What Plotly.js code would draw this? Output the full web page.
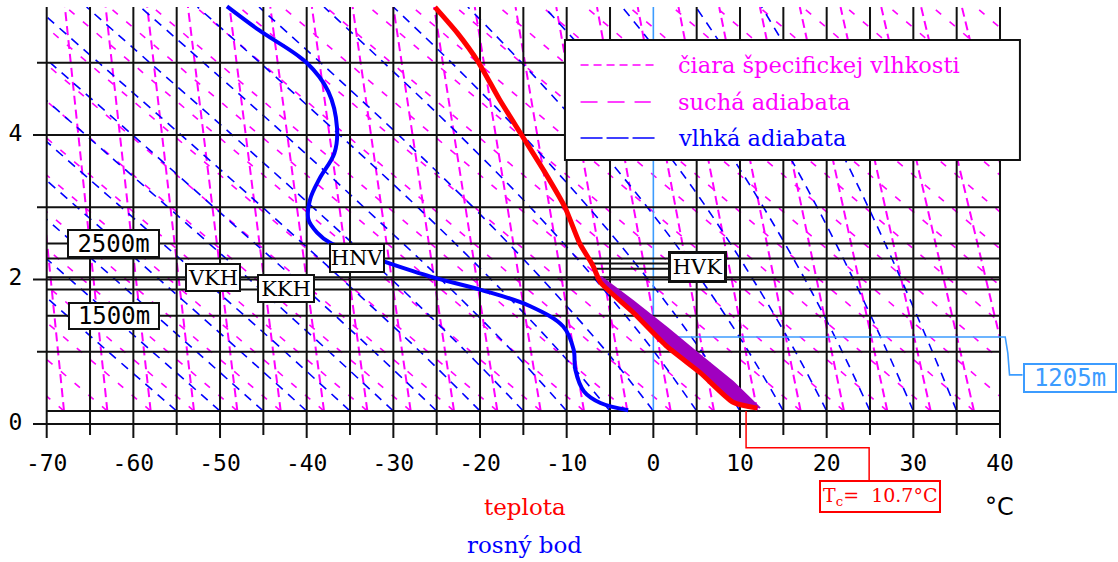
<!DOCTYPE html>
<html><head><meta charset="utf-8">
<script src="https://cdn.plot.ly/plotly-3.0.1.min.js"></script>
<style>html,body{margin:0;padding:0;background:#fff}#chart{width:1118px;height:562px}</style>
</head><body><div id="chart"></div>
<script>
// ---------------- data (temperature °C, height km) ----------------
const xTickVals = [-70, -60, -50, -40, -30, -20, -10, 0, 10, 20, 30, 40];
const xTickText = ['-70', '-60', '-50', '-40', '-30', '-20', '-10', '0', '10', '20', '30', '40'];
const yTickVals = [0, 2, 4];
const yTickText = ['0', '2', '4'];
const isotherms = [-70, -65, -60, -55, -50, -45, -40, -35, -30, -25, -20, -15, -10, -5, 0, 5, 10, 15, 20, 25, 30, 35, 40];
const heightLines = [0, 1, 2, 3, 4, 5];
const groundZ = 0.18;
const topZ = 5.77;
const levelLinesZ = [1.5, 1.86, 2.03, 2.29, 2.5];

// temperature profile (teplota)
const tempT = [12.0, 9.2, 5.4, 1.6, -2.3, -6.1, -7.0, -8.5, -10.2, -12.6, -15.2, -17.7, -20.2, -22.6, -25.2];
const tempZ = [0.22, 0.3, 0.71, 1.07, 1.54, 1.96, 2.2, 2.5, 3.0, 3.5, 4.0, 4.48, 5.01, 5.41, 5.77];
// dew point profile (rosný bod)
const dewT = [-2.9, -6.1, -8.0, -9.0, -9.2, -10.4, -14.2, -20.0, -25.7, -31.1, -37.3, -38.8, -39.8, -39.6, -38.5, -36.8, -36.5, -37.5, -40.0, -45.5, -49.2];
const dewZ = [0.19, 0.29, 0.45, 0.75, 1.03, 1.35, 1.63, 1.86, 2.04, 2.25, 2.51, 2.65, 2.83, 3.11, 3.4, 3.75, 4.1, 4.6, 5.0, 5.45, 5.78];
// upper edge of the shaded (purple) area
const bandT = [12.3, 9.2, 5.4, 1.6, -2.3, -6.1];
const bandZ = [0.22, 0.58, 0.95, 1.33, 1.7, 2.04];

// mixing-ratio lines (čiara špecifickej vlhkosti): T at ground and at top
const mixBaseT = [-68, -63, -58, -53, -48, -43, -38, -33, -28, -23, -18, -13, -8, -3, 2, 7, 12, 17, 22, 27, 32, 37, 42, 47];
const mixTopT = [-72.7, -67.9, -63.2, -58.4, -53.7, -48.9, -44.2, -39.4, -34.7, -30.0, -25.3, -20.6, -15.9, -11.2, -6.5, -1.8, 2.9, 7.6, 12.3, 16.9, 21.6, 26.3, 30.9, 35.6];
// dry adiabats (suchá adiabata): T at ground and at top
const dryBaseT = [-68, -63, -58, -53, -48, -43, -38, -33, -28, -23, -18, -13, -8, -3, 2, 7, 12, 17, 22, 27, 32, 37, 42, 47, 52, 57, 62, 67, 72, 77, 82, 87, 92];
const dryTopT = [-122.8, -117.8, -112.8, -107.8, -102.8, -97.8, -92.8, -87.8, -82.8, -77.8, -72.8, -67.8, -62.8, -57.8, -52.8, -47.8, -42.8, -37.8, -32.8, -27.8, -22.8, -17.8, -12.8, -7.8, -2.8, 2.2, 7.2, 12.2, 17.2, 22.2, 27.2, 32.2, 37.2];
// moist adiabats (vlhká adiabata)
const moistZ = [0.18, 1, 2, 3, 4, 5, 5.77];
const moistT = [
  [-55, -62.9, -72.4, -81.9, -91.4, -100.9, -108.2],
  [-50, -57.8, -67.3, -76.8, -86.3, -95.8, -103.1],
  [-45, -52.7, -62.1, -71.6, -81.1, -90.6, -97.9],
  [-40, -47.6, -57.0, -66.5, -76.0, -85.5, -92.8],
  [-35, -42.5, -51.9, -61.4, -70.9, -80.4, -87.7],
  [-30, -37.4, -46.6, -56.0, -65.5, -75.0, -82.3],
  [-25, -32.2, -41.3, -50.7, -60.1, -69.6, -76.9],
  [-20, -26.9, -35.9, -45.1, -54.5, -64.0, -71.3],
  [-15, -21.6, -30.2, -39.3, -48.6, -58.1, -65.4],
  [-10, -16.2, -24.5, -33.4, -42.5, -51.9, -59.2],
  [-5, -10.8, -18.7, -27.2, -36.2, -45.4, -52.6],
  [0, -5.4, -12.8, -20.8, -29.4, -38.4, -45.5],
  [5, 0.1, -6.7, -14.2, -22.4, -31.1, -38.0],
  [10, 5.6, -0.6, -7.5, -15.1, -23.3, -30.0],
  [15, 11.0, 5.5, -0.7, -7.6, -15.2, -21.4],
  [20, 16.4, 11.5, 6.1, 0.0, -6.8, -12.6],
  [25, 21.8, 17.5, 12.7, 7.4, 1.5, -3.6],
  [30, 27.0, 23.1, 18.9, 14.3, 9.2, 4.9],
  [35, 32.2, 28.6, 24.8, 20.7, 16.3, 12.5]
];

// labelled levels
const levelLabels = ['2500m', '1500m', 'VKH', 'KKH', 'HNV', 'HVK'];
const levelLabelT = [-62.3, -62.2, -50.8, -42.4, -34.2, 5.1];
const levelLabelZ = [2.5, 1.49, 2.03, 1.88, 2.3, 2.17];
const hvkZ = [2.22, 2.15];
const tc = 10.7;
const cloudBaseKm = 1.205;
const legendLabels = ['čiara špecifickej vlhkosti', 'suchá adiabata', 'vlhká adiabata'];

// ---------------- geometry ----------------
const W = 1118, H = 562;
const pxT0 = 46.7, pxPerDeg = 8.667, pyZ0 = 424, pxPerKm = 72.25;
const fullX = [-70 - pxT0 / pxPerDeg, 40 + (W - 1000) / pxPerDeg];
const fullY = [-(H - pyZ0) / pxPerKm, pyZ0 / pxPerKm];

const MAG = '#ff00ff', BLU = '#0000ff', RED = '#ff0000', LBLUE = '#3c9cff', GRID = '#111';
const traces = [];

function seg(xs0, xs1, z0, z1) {
  const x = [], y = [];
  for (let i = 0; i < xs0.length; i++) { x.push(xs0[i], xs1[i], null); y.push(z0, z1, null); }
  return {x, y};
}
// background families on the clipped subplot
let s = seg(mixBaseT, mixTopT, groundZ, topZ);
traces.push({x: s.x, y: s.y, xaxis: 'x', yaxis: 'y', mode: 'lines', hoverinfo: 'skip',
  line: {color: MAG, width: 2, dash: '9px,5px'}});
s = seg(dryBaseT, dryTopT, groundZ, topZ);
traces.push({x: s.x, y: s.y, xaxis: 'x', yaxis: 'y', mode: 'lines', hoverinfo: 'skip',
  line: {color: MAG, width: 1.6, dash: '7px,11px'}});
moistT.forEach(row => traces.push({x: row, y: moistZ, xaxis: 'x', yaxis: 'y', mode: 'lines', hoverinfo: 'skip',
  line: {color: BLU, width: 1.6, dash: '9px,7px', shape: 'spline'}}));

// ---------- full-figure subplot ----------
const A = {xaxis: 'x2', yaxis: 'y2', mode: 'lines', hoverinfo: 'skip'};
// vertical grid (the 0 °C isotherm is light blue above ground)
{
  const x = [], y = [];
  isotherms.forEach(t => { x.push(t, t, null); y.push(t % 10 === 0 ? -0.194 : -0.152, t === 0 ? groundZ : topZ, null); });
  traces.push(Object.assign({}, A, {x, y, line: {color: GRID, width: 2}}));
}
traces.push(Object.assign({}, A, {x: [0, 0], y: [groundZ, topZ], line: {color: LBLUE, width: 1.6}}));
// 1205 m leader
traces.push(Object.assign({}, A, {x: [2.8, 40.6, 40.9, 41.1, 42.6], y: [cloudBaseKm, cloudBaseKm, 0.98, 0.68, 0.68],
  line: {color: LBLUE, width: 1.6}}));
// horizontal grid
{
  const x = [], y = [];
  heightLines.forEach(h => { x.push(h % 2 === 0 ? -71.58 : -71.12, 40, null); y.push(h, h, null); });
  [groundZ].concat(levelLinesZ).forEach(h => { x.push(-70, 40, null); y.push(h, h, null); });
  traces.push(Object.assign({}, A, {x, y, line: {color: GRID, width: 2}}));
}
// HVK double line
{
  const x = [], y = [];
  hvkZ.forEach(h => { x.push(-7.0, 1.7, null); y.push(h, h, null); });
  traces.push(Object.assign({}, A, {x, y, line: {color: GRID, width: 2}}));
}
// shaded area between temperature and parcel curve
{
  const x = bandT.concat(tempT.slice(0, 6).slice().reverse());
  const y = bandZ.concat(tempZ.slice(0, 6).slice().reverse());
  traces.push(Object.assign({}, A, {x, y, fill: 'toself', fillcolor: '#a000c0', line: {color: '#a000c0', width: 2}}));
}
// temperature and dew point curves
traces.push(Object.assign({}, A, {x: tempT, y: tempZ, line: {color: RED, width: 5, shape: 'spline', smoothing: 0.6}}));
traces.push(Object.assign({}, A, {x: dewT, y: dewZ, line: {color: BLU, width: 4, shape: 'spline'}}));
// Tc leader
traces.push(Object.assign({}, A, {x: [tc, tc, 24.9, 24.9], y: [groundZ, -0.33, -0.33, -0.82], line: {color: RED, width: 1.5}}));
// tick labels
traces.push(Object.assign({}, A, {mode: 'text', x: xTickVals, y: xTickVals.map(() => -0.567), text: xTickText,
  textfont: {family: 'DejaVu Sans Mono', size: 23, color: '#000'}}));
traces.push(Object.assign({}, A, {mode: 'text', x: yTickVals.map(() => -73.6), y: yTickVals, text: yTickText,
  textfont: {family: 'DejaVu Sans Mono', size: 23, color: '#000'}}));

const shapes = [];
// legend box
shapes.push({type: 'rect', xref: 'x2', yref: 'y2', x0: -10.2, x1: 42.3, y0: 3.654, y1: 5.315,
  fillcolor: '#fff', line: {color: '#111', width: 2}, layer: 'above'});
const legZ = [4.969, 4.457, 3.958];
shapes.push({type: 'line', xref: 'x2', yref: 'y2', x0: -8.4, x1: 0.5, y0: legZ[0], y1: legZ[0], line: {color: MAG, width: 1.5, dash: '8px,5px'}, layer: 'above'});
shapes.push({type: 'line', xref: 'x2', yref: 'y2', x0: -8.4, x1: -0.3, y0: legZ[1], y1: legZ[1], line: {color: MAG, width: 1.5, dash: '17px,10px'}, layer: 'above'});
shapes.push({type: 'line', xref: 'x2', yref: 'y2', x0: -8.4, x1: 0.5, y0: legZ[2], y1: legZ[2], line: {color: BLU, width: 1.5, dash: '22px,4px'}, layer: 'above'});

const annotations = [];
const legColors = [MAG, MAG, BLU];
legendLabels.forEach((t, i) => annotations.push({xref: 'x2', yref: 'y2', x: 2.6, y: legZ[i], text: t, showarrow: false,
  xanchor: 'left', yanchor: 'middle', font: {family: 'DejaVu Serif', size: 22.5, color: legColors[i]}}));
const boxW = [89, 88, 52, 54, 52, 53];
const boxH = [25, 24, 25, 25, 26, 26];
levelLabels.forEach((t, i) => annotations.push({xref: 'x2', yref: 'y2', x: levelLabelT[i], y: levelLabelZ[i], text: t,
  showarrow: false, xanchor: 'center', yanchor: 'middle', bgcolor: '#fff', bordercolor: '#111',
  borderwidth: t === 'HVK' ? 3 : 2, borderpad: 0, width: boxW[i], height: boxH[i],
  font: {family: i < 2 ? 'DejaVu Sans Mono' : 'DejaVu Serif', size: i < 2 ? 24 : 21, color: '#000'}}));
annotations.push({xref: 'x2', yref: 'y2', x: 48.1, y: 0.64, text: '1205m', showarrow: false, bgcolor: '#fff',
  bordercolor: LBLUE, borderwidth: 2, borderpad: 0, width: 90, height: 26,
  font: {family: 'DejaVu Sans Mono', size: 24, color: LBLUE}});
annotations.push({xref: 'x2', yref: 'y2', x: 26.2, y: -1.01, text: 'T<sub>c</sub>=\u00a0 10.7°C', showarrow: false,
  bgcolor: '#fff', bordercolor: RED, borderwidth: 2, borderpad: 2,
  font: {family: 'DejaVu Serif', size: 19, color: RED}});
annotations.push({xref: 'x2', yref: 'y2', x: -14.8, y: -1.149, text: 'teplota', showarrow: false,
  font: {family: 'DejaVu Serif', size: 23, color: RED}});
annotations.push({xref: 'x2', yref: 'y2', x: -14.9, y: -1.675, text: 'rosný bod', showarrow: false,
  font: {family: 'DejaVu Serif', size: 23, color: BLU}});
annotations.push({xref: 'x2', yref: 'y2', x: 39.9, y: -1.149, text: '°C', showarrow: false,
  font: {family: 'DejaVu Sans', size: 24, color: '#000'}});

const ax = {visible: false, fixedrange: true, showgrid: false, zeroline: false};
const layout = {
  width: W, height: H, margin: {l: 0, r: 0, t: 0, b: 0},
  paper_bgcolor: '#fff', plot_bgcolor: 'rgba(0,0,0,0)', showlegend: false,
  xaxis: Object.assign({}, ax, {domain: [pxT0 / W, 1000 / W], range: [-70, 40]}),
  yaxis: Object.assign({}, ax, {domain: [(H - 411) / H, (H - 7) / H], range: [groundZ, topZ]}),
  xaxis2: Object.assign({}, ax, {domain: [0, 1], range: fullX, anchor: 'y2'}),
  yaxis2: Object.assign({}, ax, {domain: [0, 1], range: fullY, anchor: 'x2'}),
  shapes, annotations
};
Plotly.newPlot('chart', traces, layout, {staticPlot: true, displayModeBar: false});
</script>
</body></html>
